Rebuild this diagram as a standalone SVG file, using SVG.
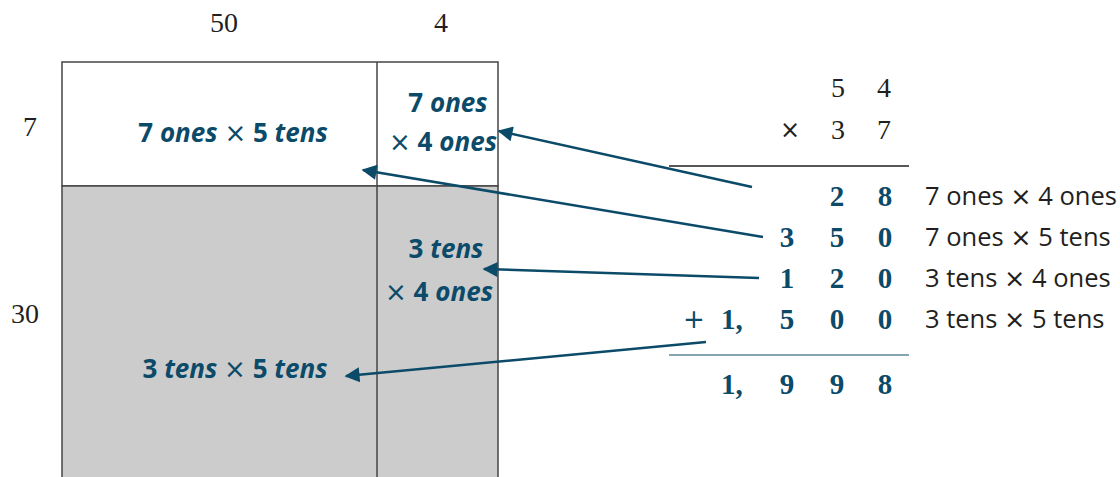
<svg xmlns="http://www.w3.org/2000/svg" width="1120" height="477" viewBox="0 0 1120 477">
<style>
.num{font-family:"Liberation Serif","DejaVu Serif",serif;font-size:28px;fill:#231f20}
.bn{font-family:"Liberation Serif","DejaVu Serif",serif;font-size:29px;font-weight:bold;fill:#0b4a68}
.lbl{font-family:"Open Sans","Noto Sans",sans-serif;font-size:25.5px;fill:#231f20}
.cell{font-family:"Open Sans","Noto Sans",sans-serif;font-size:26px;font-weight:bold;fill:#0b4a68}
.it{font-style:italic}
.x{font-weight:normal;font-family:"DejaVu Sans",sans-serif}
.con{stroke:#0b4a68;stroke-width:2.5;fill:none;marker-end:url(#ah)}
</style>
<defs>
<marker id="ah" viewBox="0 0 10 10" refX="9" refY="5" markerWidth="7" markerHeight="6" orient="auto" markerUnits="strokeWidth">
<path d="M0,0 L10,5 L0,10 Z" fill="#0b4a68"/>
</marker>
</defs>
<rect width="1120" height="477" fill="#ffffff"/>
<g id="area-model">
<rect x="62" y="62" width="436" height="124" fill="#ffffff" stroke="#444" stroke-width="1.5"/>
<rect x="62" y="186" width="436" height="300" fill="#cccccc" stroke="#444" stroke-width="1.5"/>
<line x1="377" y1="62" x2="377" y2="477" stroke="#444" stroke-width="1.5"/>
</g>
<g id="dims">
<text class="num" x="224" y="32" text-anchor="middle">50</text>
<text class="num" x="441" y="32" text-anchor="middle">4</text>
<text class="num" x="30" y="136" text-anchor="middle">7</text>
<text class="num" x="25" y="323" text-anchor="middle">30</text>
</g>
<g id="cell-7x50">
<text class="cell" x="233" y="142" text-anchor="middle">7 <tspan class="it">ones</tspan> <tspan class="x">×</tspan> 5 <tspan class="it">tens</tspan></text>
</g>
<g id="cell-7x4">
<text class="cell" x="448" y="112" text-anchor="middle">7  <tspan class="it">ones</tspan></text>
<text class="cell" x="443" y="151" text-anchor="middle"><tspan class="x">×</tspan> 4 <tspan class="it">ones</tspan></text>
</g>
<g id="cell-30x4">
<text class="cell" x="446" y="258" text-anchor="middle">3 <tspan class="it">tens</tspan></text>
<text class="cell" x="439" y="301" text-anchor="middle"><tspan class="x">×</tspan> 4 <tspan class="it">ones</tspan></text>
</g>
<g id="cell-30x50">
<text class="cell" x="235" y="378" text-anchor="middle">3 <tspan class="it">tens</tspan> <tspan class="x">×</tspan> 5 <tspan class="it">tens</tspan></text>
</g>
<g id="algorithm">
<text class="num" x="838" y="97" text-anchor="middle">5</text>
<text class="num" x="884" y="97" text-anchor="middle">4</text>
<text class="num" x="790" y="138" text-anchor="middle" style="font-family:'DejaVu Sans',sans-serif;font-size:24px">×</text>
<text class="num" x="838" y="139" text-anchor="middle">3</text>
<text class="num" x="884" y="139" text-anchor="middle">7</text>
<line x1="669" y1="166" x2="909" y2="166" stroke="#231f20" stroke-width="1.5"/>
<text class="bn" x="837" y="206" text-anchor="middle">2</text>
<text class="bn" x="885" y="206" text-anchor="middle">8</text>
<text class="lbl" x="925" y="205">7 ones <tspan class="x">×</tspan> 4 ones</text>
<text class="bn" x="787" y="247" text-anchor="middle">3</text>
<text class="bn" x="837" y="247" text-anchor="middle">5</text>
<text class="bn" x="885" y="247" text-anchor="middle">0</text>
<text class="lbl" x="925" y="246">7 ones <tspan class="x">×</tspan> 5 tens</text>
<text class="bn" x="787" y="288" text-anchor="middle">1</text>
<text class="bn" x="837" y="288" text-anchor="middle">2</text>
<text class="bn" x="885" y="288" text-anchor="middle">0</text>
<text class="lbl" x="925" y="287">3 tens <tspan class="x">×</tspan> 4 ones</text>
<text x="694" y="328" text-anchor="middle" style="font-family:'DejaVu Sans',sans-serif;font-size:26px;fill:#0b4a68">+</text>
<text class="bn" x="721" y="329">1,</text>
<text class="bn" x="787" y="329" text-anchor="middle">5</text>
<text class="bn" x="837" y="329" text-anchor="middle">0</text>
<text class="bn" x="885" y="329" text-anchor="middle">0</text>
<text class="lbl" x="925" y="328">3 tens <tspan class="x">×</tspan> 5 tens</text>
<line x1="669" y1="355" x2="909" y2="355" stroke="#0b4a68" stroke-width="1"/>
<text class="bn" x="721" y="394">1,</text>
<text class="bn" x="787" y="394" text-anchor="middle">9</text>
<text class="bn" x="837" y="394" text-anchor="middle">9</text>
<text class="bn" x="885" y="394" text-anchor="middle">8</text>
</g>
<g id="connectors">
<line class="con" x1="752" y1="187" x2="499" y2="131"/>
<line class="con" x1="763" y1="237" x2="363" y2="170"/>
<line class="con" x1="759" y1="278" x2="484" y2="269"/>
<line class="con" x1="706" y1="342" x2="346" y2="376"/>
</g>
</svg>
